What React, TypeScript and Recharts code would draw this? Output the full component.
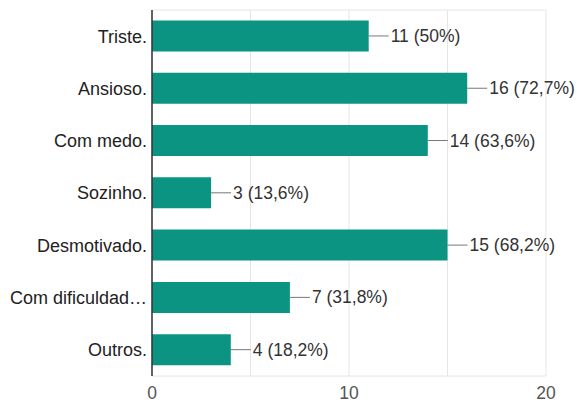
import React from "react";
import { Bar, BarChart, CartesianGrid, LabelList, XAxis, YAxis } from "recharts";

const categories = ["Triste.", "Ansioso.", "Com medo.", "Sozinho.", "Desmotivado.", "Com dificuldad…", "Outros."];
const counts = [11, 16, 14, 3, 15, 7, 4];
const percents = ["50%", "72,7%", "63,6%", "13,6%", "68,2%", "31,8%", "18,2%"];
const xTicks = [0, 5, 10, 15, 20];

const BAR_COLOR = "#0b9482";
const FONT = "'Liberation Sans', Arial, sans-serif";

const data = categories.map((name, i) => ({
  name,
  value: counts[i],
  label: `${counts[i]} (${percents[i]})`,
}));

// connector line + text to the right of each bar
const BarLabel = (props: any) => {
  const { x, y, width, height, index } = props;
  const endX = Number(x) + Number(width);
  const midY = Number(y) + Number(height) / 2;
  return (
    <g>
      <line x1={endX} y1={midY} x2={endX + 20} y2={midY} stroke="#777" strokeWidth={1} />
      <text x={endX + 22} y={midY} dominantBaseline="central" fill="#333" fontSize={17.5} fontFamily={FONT}>
        {data[index].label}
      </text>
    </g>
  );
};

export default function App() {
  return (
    <div style={{ position: "absolute", left: 0, top: 0 }}>
      <BarChart
        width={577}
        height={410}
        data={data}
        layout="vertical"
        margin={{ top: 10, right: 31, left: 0, bottom: 0 }}
        barCategoryGap="20%"
      >
        <CartesianGrid
          stroke="#e6e6e6"
          horizontalCoordinatesGenerator={({ offset }: any) => [offset.top, offset.top + offset.height]}
        />
        <XAxis
          type="number"
          domain={[0, 20]}
          ticks={xTicks}
          tickFormatter={(v: number) => (v % 10 === 0 ? String(v) : "")}
          axisLine={false}
          tickLine={false}
          tickSize={0}
          tickMargin={11}
          height={34}
          tick={{ fill: "#555", fontSize: 17.5, fontFamily: FONT }}
        />
        <YAxis
          type="category"
          dataKey="name"
          width={152}
          axisLine={{ stroke: "#333", strokeWidth: 1.5 }}
          tickLine={false}
          tickSize={0}
          tickMargin={5}
          interval={0}
          tick={{ fill: "#222", fontSize: 18, fontFamily: FONT }}
        />
        <Bar dataKey="value" fill={BAR_COLOR} isAnimationActive={false}>
          <LabelList dataKey="label" content={<BarLabel />} />
        </Bar>
      </BarChart>
    </div>
  );
}
